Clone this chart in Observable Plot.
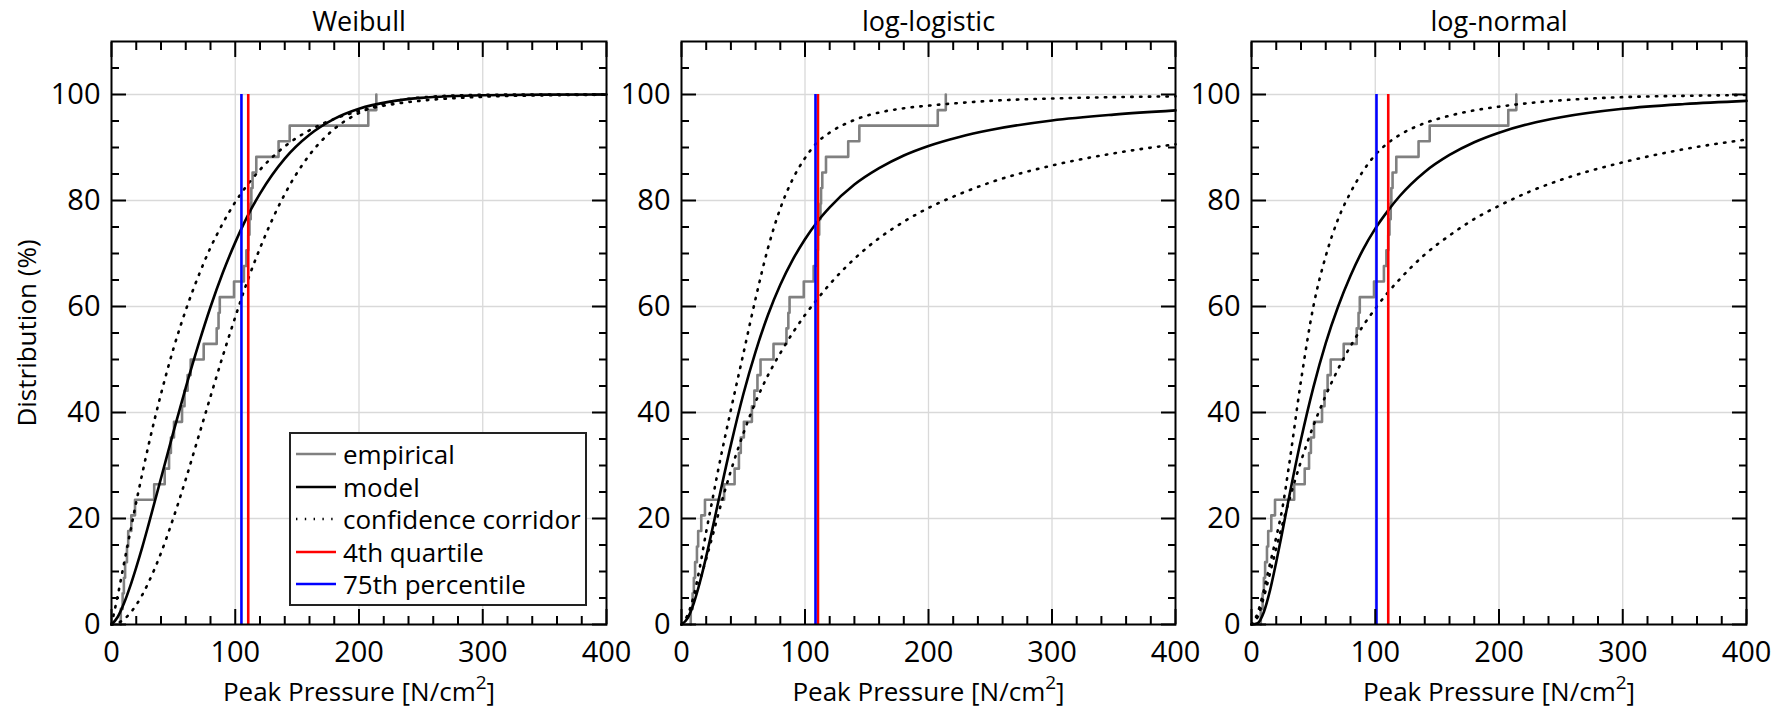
<!DOCTYPE html>
<html>
<head>
<meta charset="utf-8">
<script src="https://cdn.jsdelivr.net/npm/d3@7"></script>
<script src="https://cdn.jsdelivr.net/npm/@observablehq/plot@0.6"></script>
<style>
  html, body { margin: 0; padding: 0; background: #fff; }
  body { font-family: "Open Sans", sans-serif; }
  #wrap { position: relative; width: 1787px; height: 710px; overflow: hidden; background: #fff; }
  #wrap svg.panel { position: absolute; top: 0; overflow: visible; }
  .legend { position: absolute; box-sizing: border-box; border: 2px solid #222; background: #fff;
            padding-top: 4px; font-family: "Open Sans", sans-serif; font-size: 26px; color: #000; }
  .legend .row { display: flex; align-items: center; height: 32.5px; white-space: nowrap; }
  .legend .row svg { flex: none; }
  .legend .row span { margin-left: 6px; line-height: 1; }
</style>
</head>
<body>
<div id="wrap"></div>
<script>
// ---------------- data ----------------
const panelTitles = ["Weibull", "log-logistic", "log-normal"];
const xLabel = "Peak Pressure [N/cm2]";
const yLabel = "Distribution (%)";

const xMajor = [0, 100, 200, 300, 400];
const xMinor = [20, 40, 60, 80, 120, 140, 160, 180, 220, 240, 260, 280, 320, 340, 360, 380];
const yMajor = [0, 20, 40, 60, 80, 100];
const yMinor = [5, 10, 15, 25, 30, 35, 45, 50, 55, 65, 70, 75, 85, 90, 95, 105];

// empirical distribution (step positions and levels)
const empX = [7.5, 9, 10, 11, 12.5, 13.5, 16, 19, 34.5, 43, 46.5, 48, 50.5, 57, 59, 61.5, 64, 74.5,
              85, 86.5, 87.5, 99, 107, 109, 110.5, 111.5, 112.5, 113, 114, 117, 135, 144, 207.5, 214];
const empY = [2.94, 5.88, 8.82, 11.76, 14.71, 17.65, 20.59, 23.53, 26.47, 29.41, 32.35, 35.29, 38.24,
              41.18, 44.12, 47.06, 50.00, 52.94, 55.88, 58.82, 61.76, 64.71, 67.65, 70.59, 73.53, 76.47,
              79.41, 82.35, 85.29, 88.24, 91.18, 94.12, 97.06, 100];

const curveX = [0, 5, 10, 15, 20, 25, 30, 40, 50, 60, 70, 80, 90, 100, 110, 120, 140, 160, 180, 200, 225, 250, 300, 350, 400];

const weibullModel = [0, 1.42, 3.95, 7.15, 10.8, 14.7, 18.9, 27.6, 36.3, 44.7, 52.6, 59.9, 66.4, 72.1, 77.1, 81.3, 87.9, 92.4, 95.4, 97.3, 98.65, 99.36, 99.87, 99.98, 100];
const weibullUpper = [0, 5.4, 11.4, 17.3, 23.1, 28.6, 33.9, 43.5, 52.0, 59.3, 65.6, 71.1, 75.7, 79.7, 83.0, 85.8, 90.2, 93.25, 95.4, 96.86, 98.08, 98.83, 99.57, 99.85, 99.95];
const weibullLower = [0, 0.25, 0.97, 2.12, 3.69, 5.65, 7.97, 13.5, 20.1, 27.4, 35.2, 43.0, 50.7, 58.0, 64.9, 71.0, 81.2, 88.6, 93.5, 96.5, 98.5, 99.44, 99.94, 100, 100];

const loglogModel = [0, 1.2, 4.06, 8.06, 12.8, 18.0, 23.4, 33.9, 43.4, 51.5, 58.4, 64.1, 68.8, 72.7, 76.0, 78.7, 83.0, 86.1, 88.5, 90.3, 92.0, 93.3, 95.1, 96.2, 97.0];
const loglogUpper = [0, 1.8, 5.5, 11, 17.5, 23.5, 29.5, 40.5, 51, 61.5, 71, 78.5, 84, 88, 91, 92.8, 95.2, 96.6, 97.4, 97.9, 98.4, 98.8, 99.25, 99.5, 99.65];
const loglogLower = [0, 1.6, 4.5, 8.4, 12.4, 16.6, 21.0, 29.0, 36.0, 42.0, 47.0, 51.2, 55.0, 58.4, 61.4, 64.2, 69.0, 72.9, 76.0, 78.6, 81.2, 83.4, 86.6, 88.9, 90.6];

const lognormModel = [0, 0.27, 2.37, 6.48, 11.8, 17.6, 23.6, 34.9, 44.75, 53.1, 60.0, 65.8, 70.7, 74.7, 78.0, 80.9, 85.4, 88.6, 91.0, 92.8, 94.5, 95.7, 97.3, 98.2, 98.8];
const lognormUpper = [0, 2.2, 6.5, 11.5, 16.5, 22.0, 29.5, 46.0, 60.0, 69.5, 76.5, 81.5, 85.5, 88.6, 90.8, 92.4, 94.6, 96.0, 97.0, 97.7, 98.4, 98.9, 99.5, 99.75, 99.9];
const lognormLower = [0, 1.42, 5.18, 9.7, 14.4, 18.9, 23.1, 30.8, 37.5, 43.2, 48.2, 52.5, 56.3, 59.6, 62.6, 65.2, 69.8, 73.4, 76.5, 79.0, 81.7, 83.9, 87.2, 89.7, 91.5];

const quartile4 = [110.5, 110.5, 110.5];      // red lines
const percentile75 = [105, 108.5, 101];       // blue lines
const vertFrom = [0, 0, 0];
const vertTo = [100, 100, 100];

const legendLabels = ["empirical", "model", "confidence corridor", "4th quartile", "75th percentile"];

// ---------------- layout / style ----------------
const FONT = '"Open Sans", sans-serif';
const DOTS = "1.4,7.4";
const layout = [
  {left: 0,    width: 640, ml: 111, mr: 34},
  {left: 640,  width: 570, ml: 41,  mr: 35},
  {left: 1210, width: 577, ml: 41,  mr: 41}
];
const curves = [
  [weibullModel, weibullUpper, weibullLower],
  [loglogModel, loglogUpper, loglogLower],
  [lognormModel, lognormUpper, lognormLower]
];

const pts = ys => curveX.map((x, j) => ({x, y: ys[j]}));
const empPts = [{x: empX[0], y: 0}, ...empX.map((x, j) => ({x, y: empY[j]}))];

const blank = () => "";
function tickAxes() {
  const o = {tickFormat: blank, label: null, strokeWidth: 2, stroke: "black"};
  return [
    Plot.axisX({...o, anchor: "bottom", ticks: xMajor, tickSize: -15}),
    Plot.axisX({...o, anchor: "bottom", ticks: xMinor, tickSize: -8}),
    Plot.axisX({...o, anchor: "top", ticks: xMajor, tickSize: -15}),
    Plot.axisX({...o, anchor: "top", ticks: xMinor, tickSize: -8}),
    Plot.axisY({...o, anchor: "left", ticks: yMajor, tickSize: -15}),
    Plot.axisY({...o, anchor: "left", ticks: yMinor, tickSize: -8}),
    Plot.axisY({...o, anchor: "right", ticks: yMajor, tickSize: -15}),
    Plot.axisY({...o, anchor: "right", ticks: yMinor, tickSize: -8})
  ];
}

const wrap = document.getElementById("wrap");

panelTitles.forEach((title, i) => {
  const L = layout[i];
  const [model, upper, lower] = curves[i];
  const marks = [
    Plot.gridX(xMajor.slice(1, -1), {stroke: "#d9d9d9", strokeOpacity: 1, strokeWidth: 1.3}),
    Plot.gridY(yMajor.slice(1), {stroke: "#d9d9d9", strokeOpacity: 1, strokeWidth: 1.3}),
    Plot.line(empPts, {x: "x", y: "y", curve: "step-after", stroke: "#808080", strokeWidth: 2.6}),
    Plot.line(pts(upper), {x: "x", y: "y", curve: "monotone-x", stroke: "black", strokeWidth: 2.6, strokeDasharray: DOTS}),
    Plot.line(pts(lower), {x: "x", y: "y", curve: "monotone-x", stroke: "black", strokeWidth: 2.6, strokeDasharray: DOTS}),
    Plot.line(pts(model), {x: "x", y: "y", curve: "monotone-x", stroke: "black", strokeWidth: 2.6}),
    Plot.ruleX([quartile4[i]], {y1: vertFrom[i], y2: vertTo[i], stroke: "#ff0000", strokeWidth: 2.6}),
    Plot.ruleX([percentile75[i]], {y1: vertFrom[i], y2: vertTo[i], stroke: "#0000ff", strokeWidth: 2.6}),
    Plot.frame({stroke: "black", strokeWidth: 2}),
    ...tickAxes(),
    Plot.axisX({anchor: "bottom", ticks: xMajor, tickSize: 0, tickPadding: 17, fontSize: 29, label: null}),
    Plot.axisY({anchor: "left", ticks: yMajor, tickSize: 0, tickPadding: 11, fontSize: 29, label: null}),
    Plot.text([title], {frameAnchor: "top", dy: -19, fontSize: 27, lineAnchor: "middle", textAnchor: "middle"}),
    Plot.text([xLabel], {frameAnchor: "bottom", dy: 68, fontSize: 26, lineAnchor: "middle", textAnchor: "middle"})
  ];
  if (i === 0) {
    marks.push(Plot.text([yLabel], {frameAnchor: "left", dx: -84, rotate: -90, fontSize: 26,
                                    lineAnchor: "middle", textAnchor: "middle"}));
  }
  const svg = Plot.plot({
    width: L.width, height: 710,
    marginLeft: L.ml, marginRight: L.mr, marginTop: 41, marginBottom: 86,
    x: {domain: [0, 400]},
    y: {domain: [0, 110]},
    style: {fontFamily: FONT, fontSize: "26px", color: "black", background: "transparent", overflow: "visible"},
    marks
  });
  svg.classList.add("panel");
  svg.style.left = L.left + "px";
  svg.style.position = "absolute";
  svg.style.top = "0px";
  svg.style.maxWidth = "none";
  // superscript in the axis label
  svg.querySelectorAll("text").forEach(t => {
    if (t.textContent === xLabel) {
      const ns = "http://www.w3.org/2000/svg";
      t.textContent = "";
      const a = document.createElementNS(ns, "tspan"); a.textContent = xLabel.slice(0, -2);
      const b = document.createElementNS(ns, "tspan"); b.textContent = "2";
      b.setAttribute("dy", "-12"); b.setAttribute("font-size", "19");
      const c = document.createElementNS(ns, "tspan"); c.textContent = "]"; c.setAttribute("dy", "12");
      t.append(a, b, c);
    }
  });
  wrap.appendChild(svg);
});

// ---------------- legend (inside first panel) ----------------
const legendStyles = [
  {stroke: "#808080", dash: null},
  {stroke: "#000000", dash: null},
  {stroke: "#000000", dash: DOTS},
  {stroke: "#ff0000", dash: null},
  {stroke: "#0000ff", dash: null}
];
const leg = document.createElement("div");
leg.className = "legend";
Object.assign(leg.style, {left: "289px", top: "432px", width: "298px", height: "174px"});
legendLabels.forEach((lab, k) => {
  const row = document.createElement("div");
  row.className = "row";
  const s = legendStyles[k];
  row.innerHTML = `<svg width="46" height="10"><line x1="5" x2="45" y1="5" y2="5" stroke="${s.stroke}" stroke-width="2.6" ${s.dash ? `stroke-dasharray="${s.dash}"` : ""}/></svg><span>${lab}</span>`;
  leg.appendChild(row);
});
wrap.appendChild(leg);
</script>
</body>
</html>
